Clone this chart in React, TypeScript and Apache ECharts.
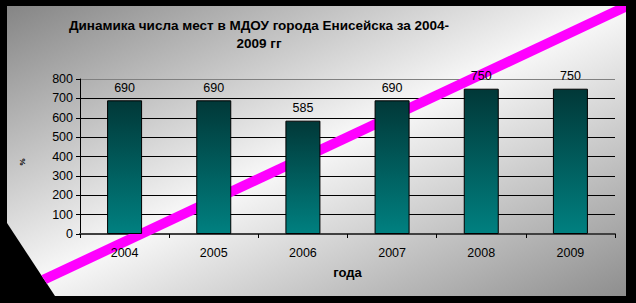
import React, { useEffect, useRef } from "react";
import * as echarts from "echarts";

const categories = ["2004", "2005", "2006", "2007", "2008", "2009"];
const places = [690, 690, 585, 690, 750, 750];
const yTicks = { min: 0, max: 800, interval: 100 };
const titleText = "Динамика числа мест в МДОУ города Енисейска за 2004-\n2009 гг";
const xName = "года";
const yName = "%";

const FONT = "'Liberation Sans', Arial, sans-serif";

export default function App() {
  const ref = useRef<HTMLDivElement>(null);
  useEffect(() => {
    document.body.style.margin = "0";
    const chart = echarts.init(ref.current!, null, { renderer: "svg" });

    // decorative panel & stripe geometry
    const L = 7, T = 6, R = 626, B = 296;
    const cutTopY = 223, cutBotX = 55;
    const slope = 0.469;
    const cx0 = 560, cy0 = 37.5, half = 5.5;
    const edgeK = (B - cutTopY) / (cutBotX - L);
    const botEdge = (x: number) => cy0 + half + slope * (cx0 - x);
    const inter = (off: number) => {
      const a = cy0 + off + slope * cx0;
      const x = (a - cutTopY + edgeK * L) / (slope + edgeK);
      return [x, a - slope * x];
    };
    const pTL = inter(-half);
    const pBL = inter(half);
    const xTopHit = cx0 + (cy0 - half - T) / slope;
    const stripe = [pTL, [xTopHit, T], [R, T], [R, botEdge(R)], pBL];

    chart.setOption({
      animation: false,
      backgroundColor: "transparent",
      graphic: [
        {
          type: "polygon",
          z: -10,
          silent: true,
          shape: { points: [[L, T], [R, T], [R, B], [cutBotX, B], [L, cutTopY]] },
          style: {
            fill: new echarts.graphic.LinearGradient(0, 0, 1, 1, [
              { offset: 0, color: "#858585" },
              { offset: 0.5, color: "#f8f8f8" },
              { offset: 1, color: "#8e8e8e" },
            ]),
          },
        },
        {
          type: "polygon",
          z: 1,
          silent: true,
          shape: { points: stripe },
          style: { fill: "#ff00ff" },
        },
        {
          type: "text",
          z: 5,
          x: 259,
          y: 16,
          style: {
            text: titleText,
            font: `bold 13.5px ${FONT}`,
            fill: "#000",
            align: "center",
            verticalAlign: "top",
            lineHeight: 18,
          },
        },
        {
          type: "text",
          z: 5,
          x: 22,
          y: 162,
          rotation: Math.PI / 2,
          style: {
            text: yName,
            font: `bold 8px ${FONT}`,
            fill: "#000",
            align: "center",
            verticalAlign: "middle",
          },
        },
      ],
      grid: { left: 80, right: 21, top: 79, bottom: 69, containLabel: false },
      xAxis: [
        {
          type: "category",
          data: categories,
          z: 0,
          axisLine: { show: true, lineStyle: { color: "#404040", width: 2 } },
          axisTick: { show: true, length: 4, lineStyle: { color: "#000" } },
          axisLabel: { show: false },
          splitLine: { show: false },
        },
        {
          type: "category",
          data: categories,
          position: "bottom",
          z: 3,
          axisLine: { show: false },
          axisTick: { show: false },
          axisLabel: {
            show: true,
            margin: 12,
            fontFamily: FONT,
            fontSize: 12.5,
            color: "#000",
          },
          name: xName,
          nameLocation: "middle",
          nameGap: 32,
          nameTextStyle: { fontFamily: FONT, fontSize: 13, fontWeight: "bold", color: "#000" },
        },
      ],
      yAxis: {
        type: "value",
        min: yTicks.min,
        max: yTicks.max,
        interval: yTicks.interval,
        z: 0,
        axisLine: { show: true, lineStyle: { color: "#000", width: 1 } },
        axisTick: { show: true, length: 4, lineStyle: { color: "#000" } },
        axisLabel: { fontFamily: FONT, fontSize: 12.5, color: "#000", margin: 7 },
        splitLine: {
          show: true,
          lineStyle: {
            color: ["#000", "#000", "#000", "#000", "#000", "#000", "#000", "#000", "#808080"],
            width: 1,
          },
        },
      },
      series: [
        {
          type: "bar",
          xAxisIndex: 0,
          data: places,
          barWidth: 35,
          z: 2,
          itemStyle: {
            borderColor: "#000",
            borderWidth: 1,
            color: new echarts.graphic.LinearGradient(0, 0, 0, 1, [
              { offset: 0, color: "#013838" },
              { offset: 1, color: "#008080" },
            ]),
          },
          label: {
            show: true,
            position: "top",
            distance: 6,
            fontFamily: FONT,
            fontSize: 12.5,
            color: "#000",
          },
        },
      ],
    });
    return () => chart.dispose();
  }, []);

  return (
    <div style={{ width: 636, height: 303, background: "#000", position: "relative" }}>
      <div ref={ref} style={{ width: 636, height: 303 }} />
    </div>
  );
}
